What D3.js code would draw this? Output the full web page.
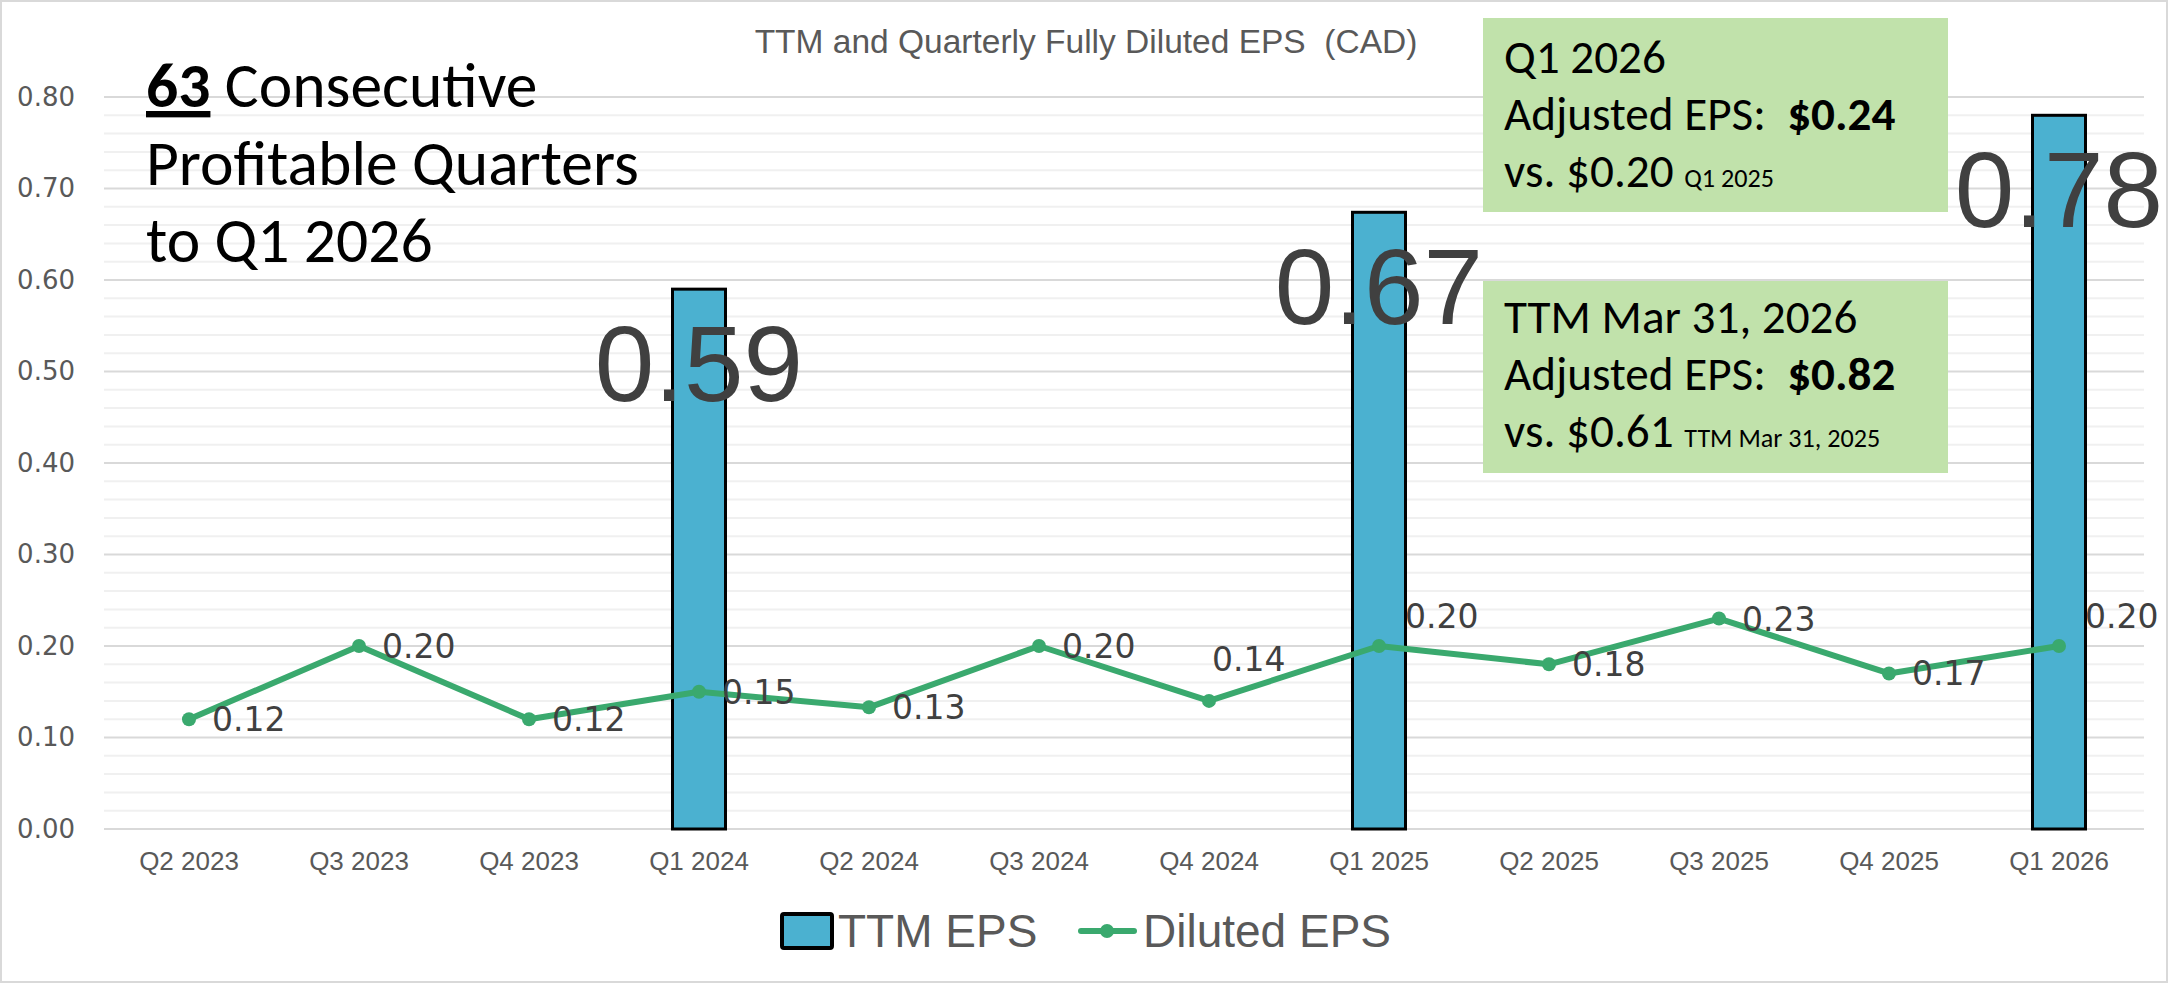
<!DOCTYPE html>
<html>
<head>
<meta charset="utf-8">
<script src="https://cdn.jsdelivr.net/npm/d3@7"></script>
<style>
  html, body { margin: 0; padding: 0; background: #ffffff; }
  svg { display: block; }
</style>
</head>
<body>
<svg id="chart" width="2169" height="985"></svg>
<script>
// ---------------- data ----------------
const categories = ["Q2 2023", "Q3 2023", "Q4 2023", "Q1 2024", "Q2 2024", "Q3 2024",
                    "Q4 2024", "Q1 2025", "Q2 2025", "Q3 2025", "Q4 2025", "Q1 2026"];
const dilutedEPS = [0.12, 0.20, 0.12, 0.15, 0.133, 0.20, 0.14, 0.20, 0.18, 0.23, 0.17, 0.20];
const ttmEPS     = [null, null, null, 0.59, null, null, null, 0.674, null, null, null, 0.78];
const yTickValues = [0.00, 0.10, 0.20, 0.30, 0.40, 0.50, 0.60, 0.70, 0.80];
const labelPlacement = ["right", "right", "right", "right", "right", "right",
                        "above", "aboveRight", "right", "right", "right", "aboveRight"];
const chartTitle = "TTM and Quarterly Fully Diluted EPS  (CAD)";
const seriesNames = ["TTM EPS", "Diluted EPS"];
const headline = [[{t: "63", b: true, u: true}, {t: " Consecutive"}],
                  [{t: "Profitable Quarters"}],
                  [{t: "to Q1 2026"}]];
const box1Lines = [[{t: "Q1 2026"}],
                   [{t: "Adjusted EPS:  "}, {t: "$0.24", b: true}],
                   [{t: "vs. $0.20 "}, {t: "Q1 2025", s: true}]];
const box2Lines = [[{t: "TTM Mar 31, 2026"}],
                   [{t: "Adjusted EPS:  "}, {t: "$0.82", b: true}],
                   [{t: "vs. $0.61 "}, {t: "TTM Mar 31, 2025", s: true}]];

// ---------------- layout ----------------
const W = 2169, H = 985;
const plot = {left: 104, right: 2144, top: 97, bottom: 829};
const svg = d3.select("#chart");

const fontNum = "'DejaVu Sans', sans-serif";
const fontAx = "'Liberation Sans', Arial, sans-serif";
const fontCal = "Carlito, Lato, sans-serif";

const x = d3.scaleBand().domain(categories).range([plot.left, plot.right]).padding(0);
const y = d3.scaleLinear().domain([0, 0.8]).range([plot.bottom, plot.top]);
const cx = c => x(c) + x.bandwidth() / 2;

function fitSize(str, family, weight, target) {
  const t = svg.append("text").style("font-family", family).style("font-weight", weight)
    .style("font-size", "100px").style("white-space", "pre").text(str);
  const w = t.node().getComputedTextLength();
  t.remove();
  return 100 * target / w;
}

// outer border
svg.append("rect").attr("x", 1).attr("y", 1).attr("width", W - 3).attr("height", H - 4)
  .attr("fill", "#fff").attr("stroke", "#d9d9d9").attr("stroke-width", 2);

// minor gridlines
const minor = d3.range(0, 0.8001, 0.02).filter(v => Math.abs(v * 10 - Math.round(v * 10)) > 1e-6);
svg.append("g").selectAll("line").data(minor).join("line")
  .attr("x1", plot.left).attr("x2", plot.right)
  .attr("y1", d => y(d)).attr("y2", d => y(d))
  .attr("stroke", "#f0f0f0").attr("stroke-width", 2);
// major gridlines
svg.append("g").selectAll("line").data(yTickValues).join("line")
  .attr("x1", plot.left).attr("x2", plot.right)
  .attr("y1", d => y(d)).attr("y2", d => y(d))
  .attr("stroke", "#d9d9d9").attr("stroke-width", 2);

// y axis
const yAxis = svg.append("g").attr("transform", `translate(${plot.left},0)`)
  .call(d3.axisLeft(y).tickValues(yTickValues).tickFormat(d3.format(".2f")).tickSize(0).tickPadding(29));
yAxis.select(".domain").remove();
yAxis.selectAll("text").attr("fill", "#595959").style("font-family", fontNum).style("font-size", "26px");

// x axis
const xAxis = svg.append("g").attr("transform", `translate(0,${plot.bottom})`)
  .call(d3.axisBottom(x).tickSize(0).tickPadding(23));
xAxis.select(".domain").remove();
xAxis.selectAll("text").attr("fill", "#595959").style("font-family", fontAx).style("font-size", "26px");

// title
svg.append("text").attr("x", 1086).attr("y", 53).attr("text-anchor", "middle")
  .style("font-family", fontAx).style("font-size", "33.5px").style("white-space", "pre")
  .attr("fill", "#595959").text(chartTitle);

// bars
const barW = 53;
const barData = categories.map((c, i) => ({c, v: ttmEPS[i]})).filter(d => d.v != null);
svg.append("g").selectAll("rect").data(barData).join("rect")
  .attr("x", d => cx(d.c) - barW / 2).attr("width", barW)
  .attr("y", d => y(d.v)).attr("height", d => y(0) - y(d.v))
  .attr("fill", "#4bb1d0").attr("stroke", "#000").attr("stroke-width", 3);

// big bar labels
svg.append("g").selectAll("text").data(barData).join("text")
  .attr("x", d => cx(d.c)).attr("y", d => y(d.v) + 112).attr("text-anchor", "middle")
  .style("font-family", fontAx).style("font-size", "107px").attr("fill", "#404040")
  .text(d => d3.format(".2f")(d.v));

// line
const green = "#3aa96e";
const lineData = categories.map((c, i) => ({c, v: dilutedEPS[i], p: labelPlacement[i]}));
svg.append("path").datum(lineData)
  .attr("d", d3.line().x(d => cx(d.c)).y(d => y(d.v)))
  .attr("fill", "none").attr("stroke", green).attr("stroke-width", 6).attr("stroke-linejoin", "round");
svg.append("g").selectAll("circle").data(lineData).join("circle")
  .attr("cx", d => cx(d.c)).attr("cy", d => y(d.v)).attr("r", 7).attr("fill", green);

// line labels
const off = {right: [23, 12], above: [3, -30], aboveRight: [26, -18]};
svg.append("g").selectAll("text").data(lineData).join("text")
  .attr("x", d => cx(d.c) + off[d.p][0]).attr("y", d => y(d.v) + off[d.p][1])
  .style("font-family", fontNum).style("font-size", "33px").attr("fill", "#404040")
  .text(d => d3.format(".2f")(d.v));

// green callout boxes
function drawLines(lines, x0, baselines, size, smallSize) {
  lines.forEach((segs, i) => {
    const t = svg.append("text").attr("x", x0).attr("y", baselines[i])
      .style("font-family", fontCal).style("white-space", "pre").attr("fill", "#000");
    segs.forEach(s => {
      const ts = t.append("tspan").text(s.t)
        .style("font-size", (s.s ? smallSize : size) + "px")
        .style("font-weight", s.b ? "bold" : "normal");
      if (s.u) ts.style("text-decoration", "underline");
    });
  });
}
const boxSize = fitSize("Adjusted EPS:", fontCal, "normal", 262);
const smallSize = fitSize("TTM Mar 31, 2025", fontCal, "normal", 196);
svg.append("rect").attr("x", 1483).attr("y", 18).attr("width", 465).attr("height", 194).attr("fill", "#c1e2ab");
svg.append("rect").attr("x", 1483).attr("y", 281).attr("width", 465).attr("height", 192).attr("fill", "#c1e2ab");
drawLines(box1Lines, 1504, [73, 130, 187], boxSize, smallSize);
drawLines(box2Lines, 1504, [333, 390, 447], boxSize, smallSize);

// headline
const headSize = fitSize("Profitable Quarters", fontCal, "normal", 493);
drawLines(headline, 146, [107, 185, 262], headSize, headSize);

// legend
const lg = svg.append("g");
lg.append("rect").attr("x", 782).attr("y", 914).attr("width", 50).attr("height", 34)
  .attr("fill", "#4bb1d0").attr("stroke", "#000").attr("stroke-width", 4).attr("rx", 2);
lg.append("text").attr("x", 838).attr("y", 947).style("font-family", fontAx).style("font-size", "46px")
  .attr("fill", "#595959").text(seriesNames[0]);
lg.append("line").attr("x1", 1081).attr("x2", 1134).attr("y1", 931).attr("y2", 931)
  .attr("stroke", green).attr("stroke-width", 6).attr("stroke-linecap", "round");
lg.append("circle").attr("cx", 1107).attr("cy", 931).attr("r", 7).attr("fill", green);
lg.append("text").attr("x", 1143).attr("y", 947).style("font-family", fontAx).style("font-size", "46px")
  .attr("fill", "#595959").text(seriesNames[1]);
</script>
</body>
</html>
